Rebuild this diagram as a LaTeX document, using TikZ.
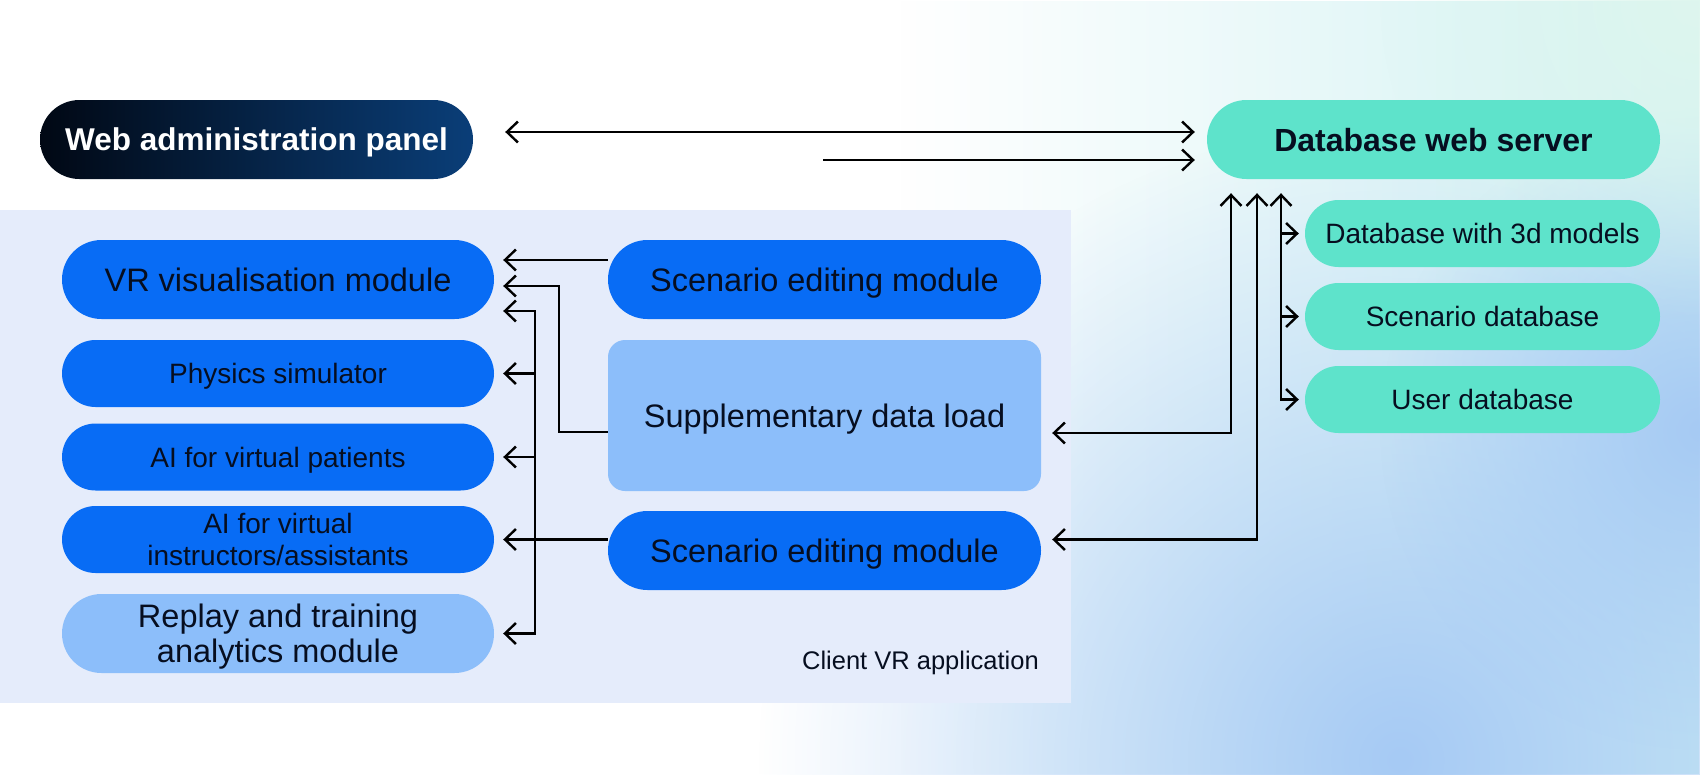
\documentclass[tikz,border=0pt]{standalone}
\usepackage{fontspec}
\setmainfont{Liberation Sans}
\usetikzlibrary{arrows.meta,fadings}
\definecolor{bluepill}{RGB}{8,108,245}
\definecolor{lightpill}{RGB}{140,190,250}
\definecolor{panelbg}{RGB}{229,236,251}
\definecolor{tealpill}{RGB}{94,227,203}
\definecolor{darktext}{RGB}{6,14,32}
\definecolor{adminL}{RGB}{1,8,20}
\definecolor{adminR}{RGB}{10,62,120}
\definecolor{mintbg}{RGB}{210,242,243}
\definecolor{skybg}{RGB}{166,202,244}
\definecolor{palebg}{RGB}{222,246,238}
\tikzfading[name=blobfade, inner color=transparent!0, outer color=transparent!100]
\tikzfading[name=rightfade, left color=transparent!100, right color=transparent!0]
\begin{document}
\begin{tikzpicture}[x=1pt,y=-1pt,
  base/.style={rectangle, inner sep=0pt, align=center, text=darktext, text depth=0pt},
  bigpill/.style={base, minimum width=433pt, minimum height=79pt, rounded corners=39.5pt,
     font=\fontsize{32.5}{35}\selectfont},
  smallpill/.style={base, minimum width=432pt, minimum height=67pt, rounded corners=33.5pt,
     font=\fontsize{28}{32}\selectfont},
  dbpill/.style={base, fill=tealpill, minimum width=355pt, minimum height=67pt, rounded corners=33.5pt,
     font=\fontsize{28}{32}\selectfont},
  conn/.style={line width=2.4pt, draw=black},
  >={Straight Barb[length=11pt,width=21pt]}
]
\useasboundingbox (0,0) rectangle (1700,774);
% background
\fill[white] (0,0) rectangle (1700,774);
\fill[mintbg, path fading=rightfade] (900,0) rectangle (1700,774);
\fill[skybg, path fading=blobfade] (1400,760) circle (640);
\fill[skybg, path fading=blobfade] (1700,430) circle (320);
\fill[palebg, path fading=blobfade] (1700,0) circle (320);
% panel
\node[fill=panelbg, minimum width=1071pt, minimum height=493pt, inner sep=0pt, anchor=north west] (panel) at (0,210) {};
\node[anchor=east, font=\fontsize{25.5}{30}\selectfont, text=darktext, text depth=0pt, inner sep=0pt] (cvr) at (1039,660) {Client VR application};

% top nodes
\node[bigpill, left color=adminL, right color=adminR, text=white,
      font=\bfseries\fontsize{31.5}{35}\selectfont] (admin) at (256.5,139.5) {Web administration panel};
\node[bigpill, fill=tealpill, minimum width=453pt,
      font=\bfseries\fontsize{32}{35}\selectfont] (server) at (1433.5,139.5) {Database web server};

% left column
\node[bigpill, fill=bluepill, minimum width=432pt] (vr) at (278,279.5) {VR visualisation module};
\node[smallpill, fill=bluepill] (phys) at (278,373.5) {Physics simulator};
\node[smallpill, fill=bluepill] (pat) at (278,457) {AI for virtual patients};
\node[smallpill, fill=bluepill, text depth=-5pt] (instr) at (278,539.5) {AI for virtual\\instructors/assistants};
\node[bigpill, fill=lightpill, minimum width=432pt, text depth=-5pt] (replay) at (278,633.5) {Replay and training\\analytics module};

% middle column
\node[bigpill, fill=bluepill] (scen1) at (824.5,279.5) {Scenario editing module};
\node[base, fill=lightpill, minimum width=433pt, minimum height=151pt, rounded corners=17pt,
      font=\fontsize{32.5}{35}\selectfont] (supp) at (824.5,415.5) {Supplementary data load};
\node[bigpill, fill=bluepill] (scen2) at (824.5,550.5) {Scenario editing module};

% databases
\node[dbpill] (db3d) at (1482.5,233.5) {Database with 3d models};
\node[dbpill] (scendb) at (1482.5,316.5) {Scenario database};
\node[dbpill] (userdb) at (1482.5,399.5) {User database};

% connectors: top
\draw[conn,<->,shorten <=32pt,shorten >=12pt] (admin.east |- 0,132) -- (server.west |- 0,132);
\coordinate (a2) at (823,160);
\draw[conn,->,shorten >=12pt] (a2) -- (server.west |- a2);

% connectors: left
\draw[conn,->,shorten >=9pt] (scen1.west |- 0,260) -- (vr.east |- 0,260);
\coordinate (j1) at (559,286);
\draw[conn,->,shorten >=9pt] (supp.west |- 0,432) -| (j1) -- (vr.east |- j1);
\coordinate (bus) at (535,539.5);
\draw[conn,->,shorten >=9pt] (scen2.west |- instr.east) -- (instr.east);
\draw[conn,->,shorten >=9pt] (bus) |- (vr.east |- 0,311);
\draw[conn,->,shorten >=9pt] (bus) |- (phys.east);
\draw[conn,->,shorten >=9pt] (bus) |- (pat.east);
\draw[conn,->,shorten >=9pt] (bus) |- (replay.east);

% connectors: right
\draw[conn,<->,shorten <=11pt,shorten >=14pt] (supp.east |- 0,433) -| (1231,0 |- server.south);
\draw[conn,<->,shorten <=11pt,shorten >=14pt] (scen2.east |- 0,539.5) -| (1257,0 |- server.south);
\draw[conn,<->,shorten <=14pt,shorten >=6pt] (1281,0 |- server.south) |- (userdb.west);
\draw[conn,->,shorten >=6pt] (1281,0 |- db3d.west) -- (db3d.west);
\draw[conn,->,shorten >=6pt] (1281,0 |- scendb.west) -- (scendb.west);
\end{tikzpicture}
\end{document}
